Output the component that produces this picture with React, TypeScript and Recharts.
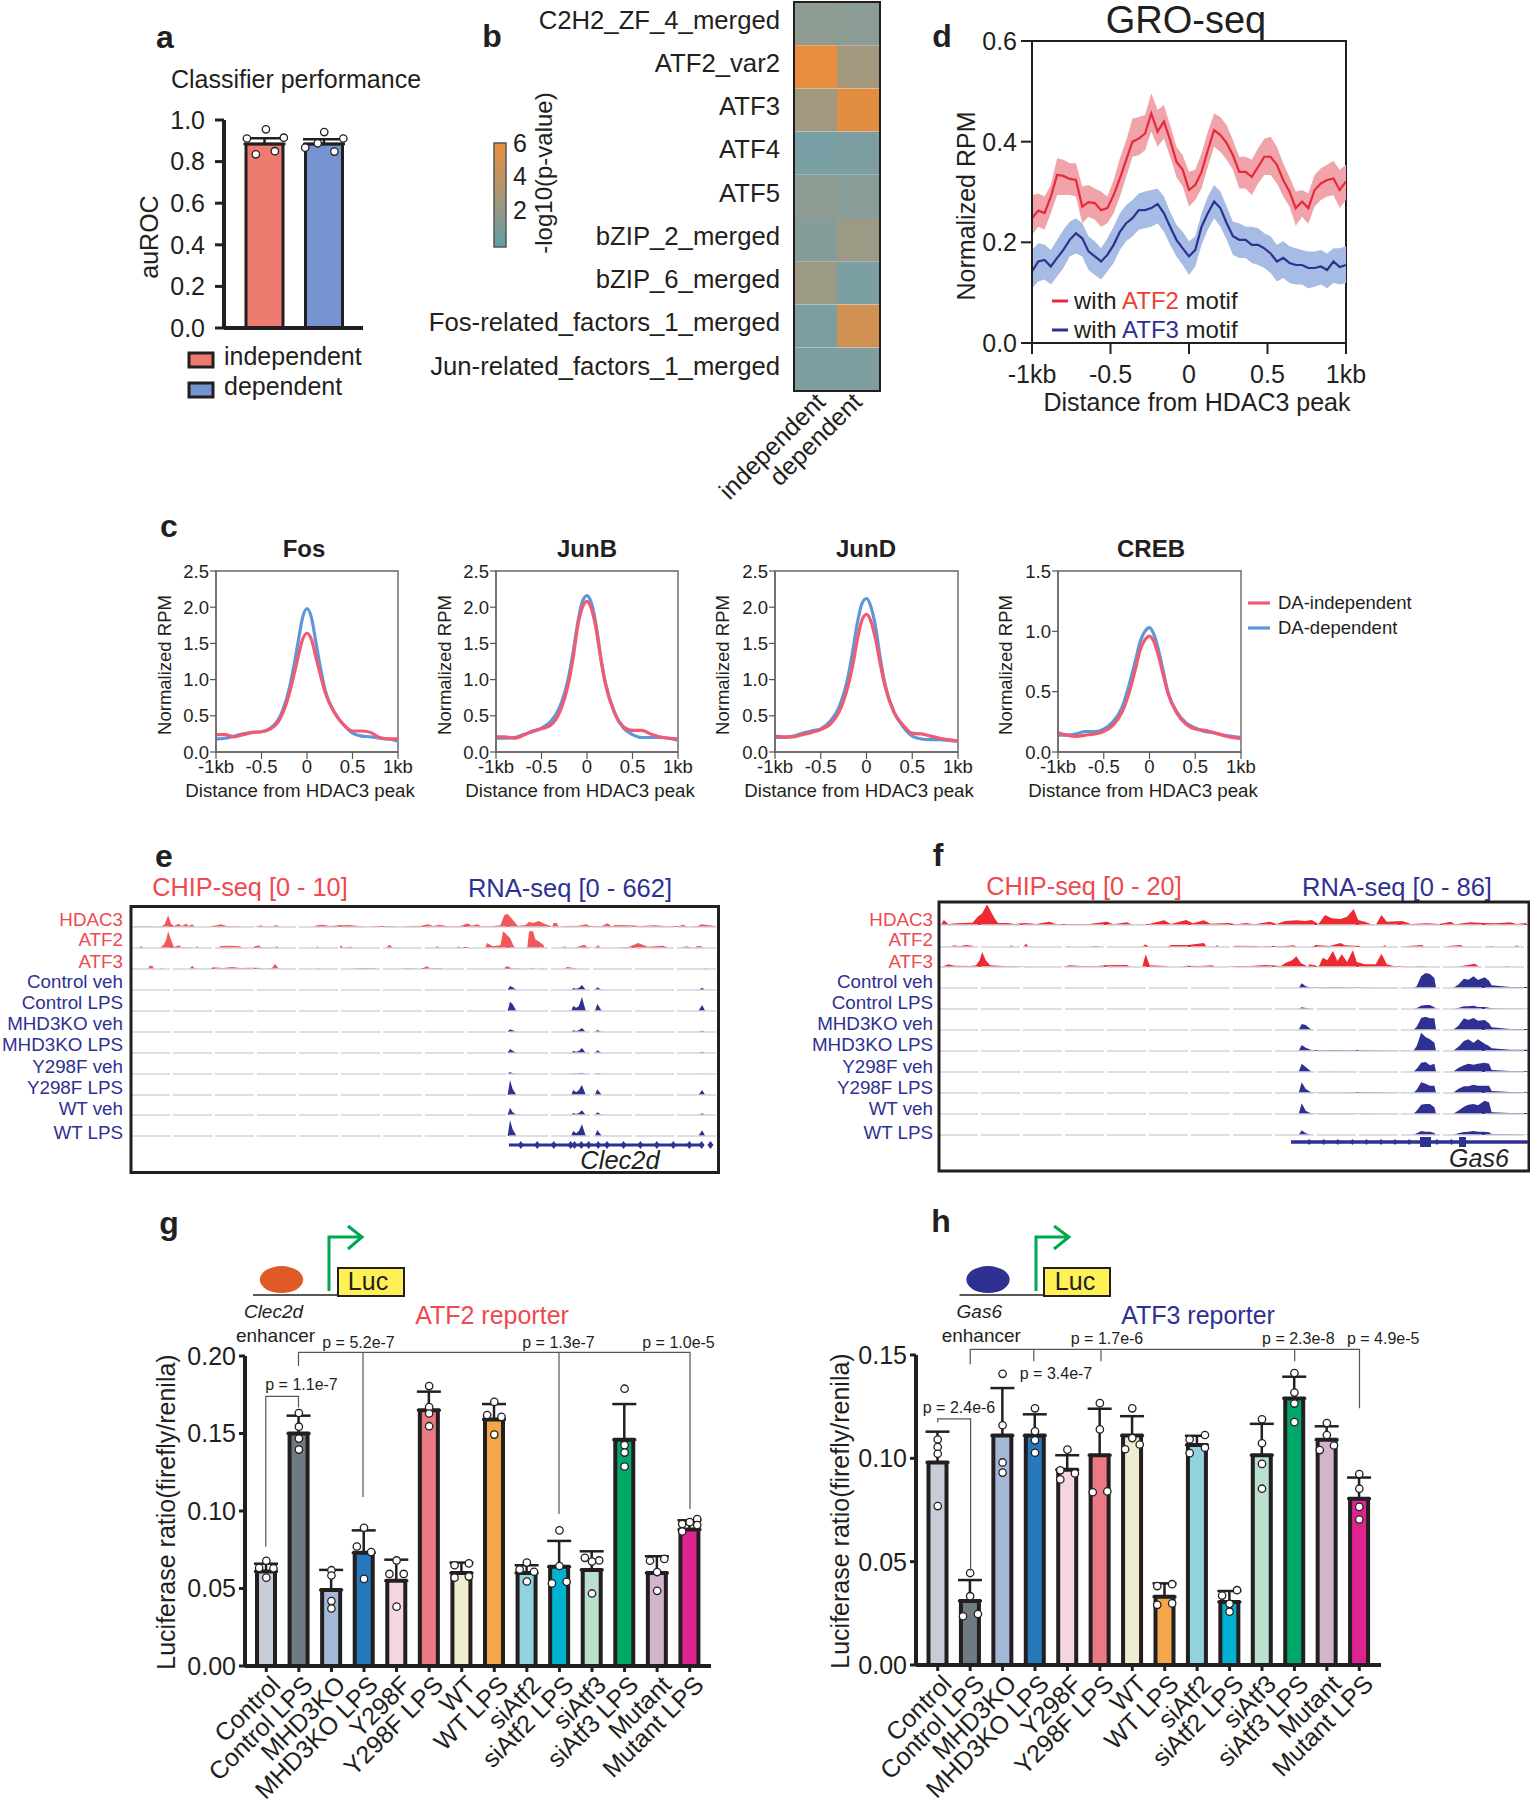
import React from 'react'
import {
  Area,
  AreaChart,
  Bar,
  BarChart,
  Cell,
  ComposedChart,
  ErrorBar,
  Line,
  LineChart,
  ReferenceArea,
  ReferenceLine,
  Scatter,
  XAxis,
  YAxis
} from 'recharts'

const FONT = '"Liberation Sans", Arial, sans-serif'
const INK = '#231f20'
const NAVY = '#2e3192'

// panel a
const aCategories = ['independent', 'dependent']
const aValues = [0.885, 0.885]
const aErrorTops = [0.912, 0.907]
const aColors = ['#ed7b6f', '#7594cf']
const aDots = [
  [0.955, 0.911, 0.915, 0.835, 0.85],
  [0.942, 0.867, 0.888, 0.911, 0.848]
]
const aDotOffsets = [
  [0.02, -0.3, 0.32, -0.15, 0.17],
  [0, -0.32, -0.11, 0.32, 0.17]
]

// panel b
const bMotifs = [
  'C2H2_ZF_4_merged', 'ATF2_var2', 'ATF3', 'ATF4', 'ATF5', 'bZIP_2_merged',
  'bZIP_6_merged', 'Fos-related_factors_1_merged', 'Jun-related_factors_1_merged'
]
const bIndependent = [1.2, 6.4, 2.2, 0.0, 1.2, 0.6, 2.0, 0.2, 0.3]
const bDependent = [1.0, 2.4, 6.0, 0.2, 0.8, 2.0, 0.1, 5.0, 0.3]

// panel c
const cX = [-1, -0.9, -0.8, -0.7, -0.6, -0.5, -0.4, -0.3, -0.2, -0.15, -0.1, -0.05, 0, 0.05, 0.1, 0.15, 0.2, 0.3, 0.4, 0.5, 0.6, 0.7, 0.8, 0.9, 1]
const fosDep = [0.18, 0.19, 0.22, 0.25, 0.27, 0.28, 0.33, 0.48, 0.85, 1.15, 1.5, 1.85, 1.98, 1.85, 1.5, 1.15, 0.85, 0.55, 0.38, 0.26, 0.22, 0.21, 0.19, 0.18, 0.15]
const fosInd = [0.24, 0.24, 0.21, 0.24, 0.27, 0.28, 0.32, 0.45, 0.78, 1.03, 1.3, 1.55, 1.64, 1.55, 1.3, 1.05, 0.82, 0.55, 0.38, 0.29, 0.29, 0.27, 0.2, 0.18, 0.18]
const junBDep = [0.19, 0.19, 0.2, 0.24, 0.28, 0.33, 0.42, 0.62, 1.05, 1.4, 1.8, 2.08, 2.16, 2.05, 1.75, 1.32, 0.97, 0.55, 0.33, 0.24, 0.2, 0.2, 0.2, 0.19, 0.16]
const junBInd = [0.21, 0.21, 0.19, 0.23, 0.29, 0.32, 0.37, 0.55, 0.97, 1.32, 1.75, 2.0, 2.08, 1.97, 1.7, 1.3, 0.95, 0.55, 0.35, 0.3, 0.3, 0.25, 0.21, 0.19, 0.18]
const junDDep = [0.2, 0.2, 0.22, 0.26, 0.29, 0.32, 0.42, 0.62, 1.05, 1.4, 1.78, 2.05, 2.12, 2.0, 1.72, 1.3, 0.95, 0.55, 0.35, 0.22, 0.18, 0.17, 0.17, 0.16, 0.15]
const junDInd = [0.22, 0.21, 0.21, 0.24, 0.27, 0.31, 0.38, 0.55, 0.92, 1.2, 1.55, 1.82, 1.9, 1.8, 1.55, 1.22, 0.92, 0.55, 0.37, 0.26, 0.25, 0.22, 0.19, 0.17, 0.15]
const crebDep = [0.14, 0.14, 0.15, 0.17, 0.17, 0.19, 0.25, 0.37, 0.62, 0.77, 0.92, 1.0, 1.03, 0.97, 0.84, 0.67, 0.5, 0.33, 0.24, 0.2, 0.17, 0.16, 0.14, 0.13, 0.12]
const crebInd = [0.16, 0.14, 0.13, 0.14, 0.15, 0.17, 0.22, 0.33, 0.55, 0.7, 0.85, 0.93, 0.96, 0.91, 0.79, 0.64, 0.49, 0.32, 0.23, 0.19, 0.18, 0.16, 0.14, 0.12, 0.11]

// panel d
const dX = [-1, -0.96, -0.92, -0.88, -0.84, -0.8, -0.76, -0.72, -0.68, -0.64, -0.6, -0.56, -0.52, -0.48, -0.44, -0.4, -0.36, -0.32, -0.28, -0.24, -0.2, -0.16, -0.12, -0.08, -0.04, 0, 0.04, 0.08, 0.12, 0.16, 0.2, 0.24, 0.28, 0.32, 0.36, 0.4, 0.44, 0.48, 0.52, 0.56, 0.6, 0.64, 0.68, 0.72, 0.76, 0.8, 0.84, 0.88, 0.92, 0.96, 1]
const redMean = [0.248, 0.263, 0.258, 0.291, 0.334, 0.332, 0.326, 0.324, 0.271, 0.28, 0.278, 0.264, 0.268, 0.294, 0.327, 0.364, 0.4, 0.406, 0.416, 0.456, 0.42, 0.44, 0.403, 0.36, 0.344, 0.304, 0.314, 0.34, 0.383, 0.423, 0.413, 0.397, 0.373, 0.34, 0.34, 0.33, 0.35, 0.37, 0.37, 0.354, 0.324, 0.301, 0.268, 0.281, 0.268, 0.304, 0.317, 0.324, 0.327, 0.304, 0.321]
const redHigh = [0.294, 0.297, 0.291, 0.314, 0.367, 0.364, 0.357, 0.357, 0.311, 0.314, 0.307, 0.301, 0.291, 0.324, 0.367, 0.403, 0.446, 0.449, 0.453, 0.496, 0.463, 0.473, 0.433, 0.39, 0.373, 0.34, 0.344, 0.377, 0.42, 0.456, 0.449, 0.433, 0.403, 0.37, 0.37, 0.364, 0.387, 0.406, 0.41, 0.39, 0.357, 0.33, 0.301, 0.304, 0.297, 0.334, 0.347, 0.354, 0.362, 0.344, 0.354]
const redLow = [0.215, 0.231, 0.225, 0.258, 0.294, 0.294, 0.294, 0.291, 0.238, 0.251, 0.245, 0.231, 0.238, 0.258, 0.291, 0.33, 0.37, 0.373, 0.383, 0.42, 0.39, 0.406, 0.37, 0.33, 0.311, 0.271, 0.284, 0.307, 0.35, 0.39, 0.38, 0.364, 0.344, 0.307, 0.307, 0.294, 0.317, 0.334, 0.334, 0.317, 0.291, 0.271, 0.233, 0.251, 0.237, 0.271, 0.284, 0.291, 0.294, 0.268, 0.284]
const blueMean = [0.142, 0.162, 0.165, 0.152, 0.169, 0.185, 0.205, 0.218, 0.208, 0.182, 0.172, 0.162, 0.175, 0.195, 0.221, 0.238, 0.248, 0.264, 0.264, 0.268, 0.276, 0.258, 0.231, 0.205, 0.188, 0.172, 0.185, 0.231, 0.258, 0.281, 0.268, 0.238, 0.212, 0.205, 0.205, 0.195, 0.195, 0.188, 0.178, 0.162, 0.169, 0.159, 0.155, 0.155, 0.149, 0.149, 0.152, 0.145, 0.162, 0.151, 0.155]
const blueHigh = [0.185, 0.198, 0.195, 0.185, 0.205, 0.225, 0.241, 0.248, 0.238, 0.212, 0.202, 0.188, 0.208, 0.231, 0.258, 0.274, 0.284, 0.297, 0.301, 0.304, 0.307, 0.291, 0.261, 0.235, 0.221, 0.202, 0.212, 0.258, 0.291, 0.314, 0.301, 0.271, 0.241, 0.238, 0.231, 0.231, 0.228, 0.218, 0.212, 0.195, 0.202, 0.192, 0.188, 0.185, 0.182, 0.182, 0.185, 0.178, 0.188, 0.188, 0.192]
const blueLow = [0.109, 0.122, 0.126, 0.116, 0.132, 0.149, 0.172, 0.178, 0.172, 0.145, 0.135, 0.126, 0.142, 0.159, 0.185, 0.202, 0.212, 0.225, 0.228, 0.231, 0.238, 0.221, 0.195, 0.172, 0.155, 0.135, 0.152, 0.195, 0.225, 0.248, 0.231, 0.205, 0.175, 0.169, 0.169, 0.159, 0.155, 0.149, 0.139, 0.122, 0.129, 0.119, 0.116, 0.116, 0.109, 0.112, 0.116, 0.109, 0.119, 0.116, 0.119]

// panels e and f: genome bin, track height
const trackLabels = ['HDAC3', 'ATF2', 'ATF3', 'Control veh', 'Control LPS', 'MHD3KO veh', 'MHD3KO LPS', 'Y298F veh', 'Y298F LPS', 'WT veh', 'WT LPS']

const eHdac3 = [[8,0],[12,3],[30,2],[50,3],[55,0],[80,2],[88,8],[97,35],[105,10],[112,3],[125,10],[132,3],[145,10],[150,3],[160,8],[167,0],[205,0],[215,3],[235,8],[250,3],[280,2],[300,0],[320,0],[340,5],[350,0],[370,2],[380,6],[388,0],[475,0],[485,5],[500,7],[520,3],[545,5],[570,6],[600,2],[612,0],[640,3],[680,3],[700,0],[730,3],[760,4],[775,8],[790,3],[805,7],[830,2],[860,3],[880,11],[890,4],[905,8],[915,2],[945,3],[965,5],[975,35],[983,40],[995,25],[1010,4],[1030,5],[1040,16],[1050,12],[1065,18],[1080,10],[1095,3],[1100,0],[1104,12],[1112,12],[1118,0],[1130,3],[1170,4],[1190,8],[1200,2],[1230,3],[1245,11],[1255,2],[1265,6],[1300,5],[1330,3],[1370,5],[1400,2],[1430,3],[1443,7],[1455,0],[1480,3],[1490,8],[1505,6],[1525,3],[1530,0]]
const eAtf2 = [[20,0],[27,6],[33,0],[75,0],[85,10],[92,25],[97,50],[103,30],[112,3],[125,8],[133,2],[170,0],[172,6],[178,0],[225,0],[235,6],[260,7],[285,5],[290,0],[315,0],[322,4],[334,8],[340,2],[375,0],[380,6],[386,0],[483,0],[487,5],[492,0],[545,0],[549,8],[555,0],[560,3],[576,4],[580,0],[665,0],[675,10],[686,0],[795,0],[800,6],[806,0],[850,0],[855,5],[862,0],[870,3],[880,3],[882,0],[925,0],[930,15],[945,5],[965,8],[972,50],[982,40],[990,30],[998,10],[1003,0],[1035,0],[1040,50],[1050,50],[1057,25],[1065,20],[1078,8],[1080,0],[1125,0],[1132,5],[1140,0],[1155,0],[1165,3],[1185,10],[1192,2],[1212,0],[1220,8],[1228,0],[1272,0],[1285,3],[1300,3],[1325,15],[1340,8],[1350,4],[1390,7],[1405,0],[1435,0],[1450,5],[1470,0],[1480,6],[1490,5],[1495,0]]
const eAtf3 = [[45,0],[48,10],[56,10],[60,0],[75,0],[80,4],[85,0],[152,0],[160,10],[168,0],[205,0],[215,5],[240,3],[265,6],[285,3],[310,4],[340,3],[345,0],[368,2],[376,16],[385,2],[388,0],[480,0],[490,2],[495,0],[575,0],[585,2],[605,3],[635,3],[640,0],[705,0],[730,3],[750,0],[765,3],[772,8],[782,2],[810,3],[815,0],[900,0],[910,1],[972,0],[982,9],[995,2],[1040,0],[1045,4],[1052,0],[1068,0],[1073,4],[1078,0],[1130,0],[1140,6],[1160,2],[1165,0],[1490,0],[1505,2],[1510,0]]
const eRnaBins = [984, 990, 997, 1007, 1150, 1155, 1163, 1170, 1178, 1188, 1212, 1218, 1230, 1482, 1492, 1500]
const eRna = [
  [0, 12, 8, 0, 0, 6, 4, 6, 15, 0, 0, 8, 0, 0, 7, 0],
  [0, 28, 20, 0, 0, 15, 10, 15, 42, 0, 0, 22, 0, 0, 18, 0],
  [0, 8, 5, 0, 0, 5, 3, 5, 12, 0, 0, 6, 0, 0, 4, 0],
  [0, 12, 7, 0, 0, 6, 4, 6, 15, 0, 0, 8, 0, 0, 4, 0],
  [0, 6, 2, 0, 0, 2, 1, 2, 4, 0, 0, 2, 0, 0, 1, 0],
  [0, 45, 18, 0, 0, 15, 8, 15, 30, 0, 0, 17, 0, 0, 15, 0],
  [0, 22, 8, 0, 0, 6, 3, 6, 14, 0, 0, 8, 0, 0, 5, 0],
  [0, 48, 20, 0, 0, 15, 8, 15, 35, 0, 0, 18, 0, 0, 17, 0]
]

const fHdac3 = [[228,0],[235,15],[245,3],[265,5],[300,7],[312,25],[322,35],[333,62],[342,40],[350,20],[358,6],[380,6],[395,3],[420,6],[445,3],[475,10],[490,2],[520,3],[560,2],[605,10],[620,2],[650,8],[665,0],[700,3],[735,14],[750,3],[785,15],[800,5],[825,14],[840,4],[880,6],[900,2],[920,6],[940,2],[975,10],[990,3],[1010,12],[1035,14],[1055,12],[1070,15],[1085,3],[1100,30],[1115,20],[1135,18],[1150,25],[1165,48],[1175,15],[1190,10],[1205,2],[1215,0],[1228,30],[1240,10],[1275,12],[1295,3],[1330,5],[1360,3],[1385,10],[1395,2],[1430,8],[1460,6],[1490,5],[1520,8],[1535,3],[1555,6],[1560,0]]
const fAtf2 = [[250,0],[258,5],[270,2],[285,6],[300,4],[302,0],[383,0],[388,5],[393,0],[415,0],[421,10],[428,0],[515,0],[518,3],[522,0],[565,0],[575,3],[585,3],[588,0],[685,0],[692,8],[700,0],[742,0],[750,6],[790,6],[825,12],[832,0],[850,0],[855,6],[860,0],[890,0],[895,4],[950,3],[952,0],[965,3],[1000,2],[1030,5],[1035,0],[1070,0],[1080,6],[1110,3],[1135,12],[1145,5],[1178,3],[1180,0],[1230,0],[1235,6],[1240,0],[1275,0],[1290,3],[1320,6],[1325,0],[1375,0],[1380,3],[1408,6],[1415,0],[1460,0],[1480,3],[1485,0],[1530,0],[1535,6],[1540,0]]
const fAtf3 = [[230,0],[245,8],[260,4],[295,3],[308,5],[316,20],[322,45],[330,20],[340,5],[370,3],[420,1],[505,0],[520,5],[545,3],[580,2],[600,5],[650,6],[660,0],[685,0],[693,38],[702,5],[740,3],[745,0],[770,0],[785,4],[815,3],[845,5],[850,0],[880,0],[900,3],[930,3],[965,6],[1000,3],[1010,12],[1025,20],[1035,32],[1045,12],[1055,5],[1060,0],[1065,8],[1075,6],[1085,0],[1095,28],[1105,20],[1118,48],[1128,18],[1138,38],[1150,15],[1163,50],[1172,15],[1190,8],[1215,8],[1228,40],[1240,8],[1255,3],[1290,0],[1325,3],[1330,0],[1400,0],[1410,3],[1440,10],[1450,0],[1505,0],[1512,3],[1520,0]]
const fRnaBins = [1040, 1047, 1056, 1070, 1120, 1190, 1300, 1308, 1318, 1328, 1338, 1348, 1352, 1390, 1402, 1415, 1425, 1437, 1447, 1462, 1472, 1478, 1520, 1565]
const fRna = [
  [0, 14, 5, 1, 2, 1, 0, 5, 35, 45, 42, 30, 0, 0, 10, 28, 25, 35, 24, 32, 22, 8, 3, 3],
  [0, 5, 3, 0, 0, 0, 0, 3, 10, 12, 12, 5, 0, 0, 3, 8, 8, 10, 6, 6, 4, 2, 1, 1],
  [0, 18, 15, 0, 0, 0, 0, 10, 36, 40, 35, 35, 0, 0, 12, 35, 30, 36, 28, 30, 20, 8, 3, 3],
  [0, 18, 10, 2, 3, 2, 0, 15, 55, 42, 35, 25, 0, 0, 12, 30, 35, 25, 35, 22, 15, 8, 4, 4],
  [0, 25, 15, 0, 1, 0, 0, 10, 28, 30, 20, 25, 0, 0, 12, 20, 25, 22, 25, 28, 25, 6, 3, 2],
  [0, 32, 12, 1, 1, 2, 0, 10, 32, 28, 22, 22, 0, 0, 12, 20, 20, 25, 22, 22, 22, 6, 3, 2],
  [0, 32, 10, 1, 1, 1, 0, 10, 28, 30, 30, 20, 0, 0, 10, 22, 28, 30, 26, 40, 35, 5, 3, 3],
  [0, 14, 5, 0, 0, 0, 0, 5, 12, 10, 10, 6, 0, 0, 5, 9, 10, 12, 10, 10, 8, 3, 2, 0]
]

// panels g and h
const reporterCategories = ['Control', 'Control LPS', 'MHD3KO', 'MHD3KO LPS', 'Y298F', 'Y298F LPS', 'WT', 'WT LPS', 'siAtf2', 'siAtf2 LPS', 'siAtf3', 'siAtf3 LPS', 'Mutant', 'Mutant LPS']
const reporterColors = ['#c8ccd8', '#6e7b83', '#a3b8d6', '#2878bd', '#f5d8df', '#ec7a84', '#f0ecd0', '#f4a64a', '#90d2de', '#00b1d2', '#b8e0cc', '#00a96a', '#d4b4cb', '#dd2490']

const gValues = [0.061, 0.15, 0.049, 0.073, 0.055, 0.165, 0.06, 0.159, 0.06, 0.064, 0.062, 0.146, 0.06, 0.088]
const gErrorTops = [0.066, 0.1615, 0.062, 0.0875, 0.0686, 0.177, 0.0667, 0.169, 0.065, 0.0807, 0.074, 0.169, 0.0708, 0.094]
const gDots = [
  [0.0679, 0.0633, 0.063, 0.057],
  [0.1632, 0.1544, 0.1467, 0.1396],
  [0.0618, 0.0584, 0.0419, 0.0371],
  [0.0892, 0.0771, 0.0735, 0.0562],
  [0.0681, 0.0594, 0.0594, 0.0383],
  [0.1806, 0.167, 0.1629, 0.1547],
  [0.065, 0.0662, 0.057, 0.0577],
  [0.1704, 0.1619, 0.1607, 0.1493],
  [0.0667, 0.0623, 0.0608, 0.0545],
  [0.0875, 0.0645, 0.0533, 0.0543],
  [0.0698, 0.0681, 0.0674, 0.0468],
  [0.1789, 0.1425, 0.1377, 0.1287],
  [0.0679, 0.0691, 0.0606, 0.0485],
  [0.0916, 0.0928, 0.0948, 0.0868, 0.0909]
]
const gDotOffsets = [
  [0, -0.22, 0.22, 0],
  [0, 0, 0, 0],
  [0, 0, 0, 0],
  [0, -0.22, 0.22, 0],
  [0, -0.22, 0.22, 0],
  [0, 0, 0, 0],
  [-0.22, 0.22, -0.22, 0.22],
  [0, -0.22, 0.22, 0],
  [0, -0.22, 0.22, 0],
  [0, 0, -0.23, 0.22],
  [-0.22, 0.22, 0, 0],
  [0, 0, 0, 0],
  [-0.22, 0.22, 0, 0],
  [-0.23, 0, 0.23, -0.23, 0.23]
]

const hValues = [0.098, 0.031, 0.111, 0.111, 0.0945, 0.1015, 0.111, 0.033, 0.1065, 0.0305, 0.1015, 0.129, 0.109, 0.0805]
const hErrorTops = [0.1129, 0.0411, 0.134, 0.1213, 0.1015, 0.124, 0.1204, 0.0395, 0.1109, 0.0358, 0.1167, 0.1395, 0.1155, 0.0907]
const hDots = [
  [0.1091, 0.1055, 0.1022, 0.0769],
  [0.0445, 0.0333, 0.0236, 0.0247],
  [0.1409, 0.116, 0.098, 0.0931],
  [0.1242, 0.1131, 0.1087, 0.1027],
  [0.1042, 0.0942, 0.0927, 0.0898],
  [0.1267, 0.114, 0.0836, 0.084],
  [0.1242, 0.1098, 0.1044, 0.1067],
  [0.0382, 0.0391, 0.0291, 0.0298],
  [0.1091, 0.1113, 0.1025, 0.1051],
  [0.0336, 0.0362, 0.0296, 0.0258],
  [0.1189, 0.1073, 0.0973, 0.0853],
  [0.1413, 0.1318, 0.1265, 0.1175],
  [0.1171, 0.1113, 0.104, 0.1062],
  [0.0924, 0.0853, 0.0765, 0.0704]
]
const hDotOffsets = [
  [0, 0, 0, 0],
  [0, 0, -0.22, 0.24],
  [0, 0, 0, 0],
  [0, 0, 0, 0],
  [0, -0.22, 0.23, -0.22],
  [0, 0, -0.22, 0.23],
  [0, 0, -0.22, 0.23],
  [-0.23, 0.23, -0.23, 0.23],
  [-0.23, 0.24, -0.23, 0.24],
  [-0.23, 0.23, 0, 0],
  [0, 0, 0, 0],
  [0, 0, 0, 0],
  [0, 0, -0.22, 0.22],
  [0, 0, 0, 0]
]

function T({ x, y, size = 25, anchor = 'middle', weight, italic, fill = INK, rotate, children }: any) {
  return (
    <text
      x={x}
      y={y}
      fontSize={size}
      fontFamily={FONT}
      fontWeight={weight}
      fontStyle={italic ? 'italic' : undefined}
      textAnchor={anchor}
      dominantBaseline="central"
      fill={fill}
      transform={rotate ? `rotate(${rotate} ${x} ${y})` : undefined}
    >
      {children}
    </text>
  )
}

function Box({ left, top, children }: any) {
  return <div style={{ position: 'absolute', left, top }}>{children}</div>
}

const DotShape = (props: any) => (
  <circle cx={props.cx} cy={props.cy} r={3.7} fill="#fff" stroke={INK} strokeWidth={1.3} />
)

function DotBars(p: any) {
  const table = p.categories.map((name: string, i: number) => ({
    name,
    value: p.values[i],
    err: [0, p.errorTops[i] - p.values[i]]
  }))
  const dotTable = p.dots.flatMap((ys: number[], i: number) =>
    ys.map((y, j) => ({ x: i + 0.5 + p.offsets[i][j], y }))
  )
  return (
    <Box left={p.left} top={p.top}>
      <ComposedChart width={p.width} height={p.height} data={table} margin={{ top: p.marginTop, right: 0, bottom: 0, left: 0 }}>
        <XAxis
          dataKey="name"
          height={p.xHeight}
          interval={0}
          padding={p.padding}
          tick={p.xLabels ? { fontSize: 25, fill: INK, fontFamily: FONT, dx: 3 } : false}
          angle={p.xLabels ? -45 : undefined}
          textAnchor={p.xLabels ? 'end' : undefined}
          tickSize={p.xLabels ? 6 : 0}
          tickMargin={2}
          tickLine={p.xLabels ? { stroke: INK, strokeWidth: 3 } : false}
          axisLine={{ stroke: INK, strokeWidth: 4 }}
        />
        <XAxis xAxisId="dots" type="number" dataKey="x" domain={[0, p.categories.length]} padding={p.padding} hide />
        <YAxis
          width={p.yWidth}
          domain={p.domain}
          ticks={p.ticks}
          interval={0}
          tickFormatter={(v: number) => v.toFixed(p.digits)}
          tick={{ fontSize: 25, fill: INK, fontFamily: FONT }}
          tickSize={p.tickSize}
          tickMargin={p.tickMargin}
          tickLine={{ stroke: INK, strokeWidth: 3 }}
          axisLine={{ stroke: INK, strokeWidth: 4 }}
        />
        <Bar dataKey="value" barSize={p.barSize} stroke={INK} strokeWidth={p.barStroke} isAnimationActive={false}>
          {p.colors.map((c: string) => <Cell key={c} fill={c} />)}
          <ErrorBar dataKey="err" width={p.whisker} stroke={INK} strokeWidth={2.5} isAnimationActive={false} />
        </Bar>
        <Scatter xAxisId="dots" data={dotTable} dataKey="y" shape={DotShape} isAnimationActive={false} />
      </ComposedChart>
    </Box>
  )
}

function heatColor(v: number) {
  const t = v / 6.5
  const mix = (a: number, b: number) => Math.round(a + (b - a) * t)
  return `rgb(${mix(122, 234)},${mix(159, 141)},${mix(164, 59)})`
}

function PeakChart({ plotLeft, plotWidth, yMax, yTicks, dep, ind }: any) {
  const table = cX.map((x, i) => ({ x, dep: dep[i], ind: ind[i] }))
  return (
    <Box left={plotLeft - 56} top={550}>
      <LineChart width={56 + plotWidth + 30} height={242} data={table} margin={{ top: 21, right: 30, bottom: 0, left: 0 }}>
        <XAxis
          type="number"
          dataKey="x"
          domain={[-1, 1]}
          ticks={[-1, -0.5, 0, 0.5, 1]}
          interval={0}
          height={40}
          tickFormatter={(v: number) => (v === -1 ? '-1kb' : v === 1 ? '1kb' : String(v))}
          tick={{ fontSize: 18.5, fill: INK, fontFamily: FONT }}
          tickSize={7}
          tickMargin={1}
          tickLine={{ stroke: '#555', strokeWidth: 1.2 }}
          axisLine={{ stroke: '#666', strokeWidth: 1.4 }}
        />
        <YAxis
          width={56}
          domain={[0, yMax]}
          ticks={yTicks}
          interval={0}
          tickFormatter={(v: number) => v.toFixed(1)}
          tick={{ fontSize: 18.5, fill: INK, fontFamily: FONT }}
          tickSize={6}
          tickMargin={1}
          tickLine={{ stroke: '#555', strokeWidth: 1.2 }}
          axisLine={{ stroke: '#666', strokeWidth: 1.4 }}
        />
        <ReferenceArea x1={-1} x2={1} y1={0} y2={yMax} fill="none" stroke="#666" strokeWidth={1.4} />
        <Line dataKey="dep" type="monotone" stroke="#5e97d8" strokeWidth={3.2} dot={false} isAnimationActive={false} />
        <Line dataKey="ind" type="monotone" stroke="#f25a72" strokeWidth={3.2} dot={false} isAnimationActive={false} />
      </LineChart>
    </Box>
  )
}

function Track({ left, width, baseline, xDomain, points, color }: any) {
  const table = points.map((pt: number[]) => ({ x: pt[0], h: pt[1] }))
  return (
    <Box left={left} top={baseline - 20}>
      <AreaChart width={width} height={21} data={table} margin={{ top: 0, right: 0, bottom: 1, left: 0 }}>
        <XAxis type="number" dataKey="x" domain={xDomain} hide allowDataOverflow />
        <YAxis domain={[0, 60]} hide allowDataOverflow />
        <ReferenceLine y={0} stroke="#d4d4dc" strokeWidth={1.4} strokeDasharray="39 3" />
        <Area dataKey="h" type="linear" fill={color} fillOpacity={1} stroke="none" dot={false} isAnimationActive={false} />
      </AreaChart>
    </Box>
  )
}

function TrackPanel({ left, width, xDomain, baselines, chip, chipColor, rnaBins, rna }: any) {
  return (
    <>
      {chip.map((points: number[][], i: number) => (
        <Track key={i} left={left} width={width} baseline={baselines[i]} xDomain={xDomain} points={points} color={chipColor} />
      ))}
      {rna.map((heights: number[], i: number) => (
        <Track
          key={i + 3}
          left={left}
          width={width}
          baseline={baselines[i + 3]}
          xDomain={xDomain}
          points={rnaBins.map((b: number, j: number) => [b, heights[j]])}
          color={NAVY}
        />
      ))}
    </>
  )
}

const eBaselines = [927, 948, 969, 990, 1011, 1032, 1053, 1074, 1095, 1115, 1136]
const fBaselines = [925, 947, 967, 988, 1009, 1030, 1051, 1072, 1093, 1114, 1135]
const eLabelY = [919, 939, 961, 981, 1002, 1023, 1044, 1066, 1087, 1108, 1132]

const eExons = [1020, 1063, 1106, 1150, 1160, 1178, 1197, 1222, 1245, 1288, 1332, 1375, 1418, 1460, 1492, 1515]
const fExons = [1065, 1098, 1130, 1163, 1195, 1228, 1260, 1292, 1355, 1388]

function Overlay() {
  const pBracket = { fill: 'none', stroke: '#555', strokeWidth: 1.2 }
  return (
    <svg width={1530} height={1800} style={{ position: 'absolute', left: 0, top: 0, pointerEvents: 'none' }}>
      <defs>
        <linearGradient id="heatRamp" x1="0" y1="0" x2="0" y2="1">
          <stop offset="0" stopColor="#e8913c" />
          <stop offset="0.55" stopColor="#a3967c" />
          <stop offset="1" stopColor="#5f9ea8" />
        </linearGradient>
      </defs>

      {[['a', 165, 37], ['b', 492, 36], ['c', 169, 526], ['d', 942, 36], ['e', 164, 856], ['f', 938, 855], ['g', 169, 1223], ['h', 941, 1221]].map(
        ([l, x, y]: any) => <T key={l} x={x} y={y} size={32} weight="bold">{l}</T>
      )}

      {/* a */}
      <T x={296} y={79}>Classifier performance</T>
      <T x={149} y={237} rotate={-90}>auROC</T>
      <rect x={189} y={353} width={24} height={14} fill={aColors[0]} stroke={INK} strokeWidth={3} />
      <rect x={189} y={383} width={24} height={14} fill={aColors[1]} stroke={INK} strokeWidth={3} />
      <T x={224} y={356} anchor="start">independent</T>
      <T x={224} y={386} anchor="start">dependent</T>

      {/* b */}
      <rect x={794} y={2} width={86} height={389} fill="none" stroke={INK} strokeWidth={2} />
      <rect x={494} y={143} width={12} height={104} fill="url(#heatRamp)" stroke="#555" strokeWidth={1.5} />
      <T x={520} y={143}>6</T>
      <T x={520} y={176}>4</T>
      <T x={520} y={210}>2</T>
      <T x={543} y={173} size={24} rotate={-90}>-log10(p-value)</T>

      {/* c */}
      {[[304, 'Fos'], [587, 'JunB'], [866, 'JunD'], [1151, 'CREB']].map(([x, t]: any) => (
        <T key={t} x={x} y={548} size={24} weight="bold">{t}</T>
      ))}
      {[300, 580, 859, 1143].map((x) => <T key={x} x={x} y={790} size={18.7}>Distance from HDAC3 peak</T>)}
      {[164, 444, 722, 1005].map((x) => <T key={x} x={x} y={665} size={18.5} rotate={-90}>Normalized RPM</T>)}
      <line x1={1248} x2={1270} y1={603} y2={603} stroke="#f25a72" strokeWidth={3.2} />
      <line x1={1248} x2={1270} y1={628} y2={628} stroke="#5e97d8" strokeWidth={3.2} />
      <T x={1278} y={602} size={18.5} anchor="start">DA-independent</T>
      <T x={1278} y={627} size={18.5} anchor="start">DA-dependent</T>

      {/* d */}
      <T x={1186} y={20} size={38}>GRO-seq</T>
      <T x={966} y={206} rotate={-90}>Normalized RPM</T>
      <T x={1197} y={402}>Distance from HDAC3 peak</T>
      <line x1={1052} x2={1068} y1={301} y2={301} stroke="#e8283c" strokeWidth={3} />
      <line x1={1052} x2={1068} y1={330} y2={330} stroke={NAVY} strokeWidth={3} />
      <T x={1074} y={300} size={24} anchor="start">with <tspan fill="#e8432e">ATF2</tspan> motif</T>
      <T x={1074} y={329} size={24} anchor="start">with <tspan fill={NAVY}>ATF3</tspan> motif</T>

      {/* e */}
      <T x={250} y={887} size={25.3} fill="#ee4a50">CHIP-seq [0 - 10]</T>
      <T x={570} y={888} size={25.5} fill={NAVY}>RNA-seq [0 - 662]</T>
      <rect x={131} y={906.5} width={587.5} height={266} fill="none" stroke={INK} strokeWidth={3} />
      {trackLabels.map((t, i) => (
        <T key={t} x={123} y={eLabelY[i]} size={18.8} anchor="end" fill={i < 3 ? '#ee4a50' : NAVY}>{t}</T>
      ))}
      <line x1={509} x2={702} y1={1145} y2={1145} stroke={NAVY} strokeWidth={3} />
      {eExons.map((b) => {
        const x = 130 + b / 2.61
        return <path key={b} d={`M${x - 3} 1145 L${x} 1141 L${x + 3} 1145 L${x} 1149 Z`} fill={NAVY} />
      })}
      <T x={620} y={1160} size={25.5} italic>Clec2d</T>

      {/* f */}
      <T x={1084} y={886} size={25.3} fill="#ee4a50">CHIP-seq [0 - 20]</T>
      <T x={1397} y={887} size={25.5} fill={NAVY}>RNA-seq [0 - 86]</T>
      <rect x={939} y={902} width={590} height={269} fill="none" stroke={INK} strokeWidth={3} />
      {trackLabels.map((t, i) => (
        <T key={t} x={933} y={eLabelY[i]} size={18.8} anchor="end" fill={i < 3 ? '#ee4a50' : NAVY}>{t}</T>
      ))}
      <line x1={1291} x2={1528} y1={1142} y2={1142} stroke={NAVY} strokeWidth={3.5} />
      <rect x={1420} y={1137} width={11} height={10} fill={NAVY} />
      <rect x={1459} y={1137} width={7} height={10} fill={NAVY} />
      {fExons.map((b) => {
        const x = 840 + b / 2.27
        return <path key={b} d={`M${x - 2.5} 1142 L${x} 1139 L${x + 2.5} 1142 L${x} 1145 Z`} fill={NAVY} />
      })}
      <T x={1479} y={1158} size={25} italic>Gas6</T>

      {/* g */}
      <ellipse cx={281.5} cy={1279.6} rx={21.7} ry={13.5} fill="#e05a28" />
      <line x1={253} x2={340} y1={1295} y2={1295} stroke={INK} strokeWidth={1.5} />
      <rect x={338} y={1268} width={66} height={28} fill="#fff055" stroke={INK} strokeWidth={2} />
      <T x={368} y={1281}>Luc</T>
      <path d="M329 1291 V1237 H361 M348 1226 L362 1237 L348 1249" fill="none" stroke="#00a94f" strokeWidth={3} />
      <T x={273.5} y={1311.6} size={19} italic>Clec2d</T>
      <T x={275.5} y={1335} size={19}>enhancer</T>
      <T x={492} y={1315} fill="#ee4a50">ATF2 reporter</T>
      <T x={166} y={1512} rotate={-90}>Luciferase ratio(firefly/renila)</T>
      <T x={358.5} y={1342.5} size={16}>p = 5.2e-7</T>
      <T x={558.5} y={1342.5} size={16}>p = 1.3e-7</T>
      <T x={678.5} y={1342.5} size={16}>p = 1.0e-5</T>
      <T x={301.5} y={1384} size={16}>p = 1.1e-7</T>
      <path d="M298.5 1366 V1352.3 H690 V1509 M363 1352.3 V1497 M559 1352.3 V1514" {...pBracket} />
      <path d="M265.8 1546.8 V1396.3 H298.5 V1407.6" {...pBracket} />

      {/* h */}
      <ellipse cx={988} cy={1279.6} rx={21.7} ry={13.5} fill={NAVY} />
      <line x1={959.5} x2={1046} y1={1295} y2={1295} stroke={INK} strokeWidth={1.5} />
      <rect x={1044} y={1268} width={66} height={28} fill="#fff055" stroke={INK} strokeWidth={2} />
      <T x={1075} y={1281}>Luc</T>
      <path d="M1036 1291 V1237 H1068 M1054 1226 L1069 1237 L1054 1249" fill="none" stroke="#00a94f" strokeWidth={3} />
      <T x={979.3} y={1311.6} size={19} italic>Gas6</T>
      <T x={981.3} y={1335} size={19}>enhancer</T>
      <T x={1198} y={1315} fill={NAVY}>ATF3 reporter</T>
      <T x={840} y={1511} rotate={-90}>Luciferase ratio(firefly/renila)</T>
      <T x={1107} y={1338} size={16}>p = 1.7e-6</T>
      <T x={1298.3} y={1338} size={16}>p = 2.3e-8</T>
      <T x={1383.2} y={1338} size={16}>p = 4.9e-5</T>
      <T x={1056} y={1373.7} size={16}>p = 3.4e-7</T>
      <T x={959} y={1407} size={16}>p = 2.4e-6</T>
      <path d="M970.2 1364.3 V1349.3 H1359.5 V1408.3 M1033.8 1349.3 V1361.3 M1101 1349.3 V1361.3 M1294.7 1349.3 V1361.3" {...pBracket} />
      <path d="M937.8 1422.6 V1418.9 H970.6 V1570.5" {...pBracket} />
    </svg>
  )
}

export default function App() {
  const heatTable = bMotifs.map((name) => ({ name, colA: 1, colB: 1 }))
  const dTable = dX.map((x, i) => ({
    x,
    red: redMean[i],
    redBand: [redLow[i], redHigh[i]],
    blue: blueMean[i],
    blueBand: [blueLow[i], blueHigh[i]]
  }))

  return (
    <div style={{ position: 'absolute', left: 0, top: 0, width: 1530, height: 1800, background: '#fff', overflow: 'hidden', fontFamily: FONT }}>
      <DotBars
        left={100}
        top={100}
        width={263}
        height={250}
        marginTop={20}
        xHeight={22}
        yWidth={124}
        padding={{ left: 11, right: 9 }}
        categories={aCategories}
        values={aValues}
        errorTops={aErrorTops}
        colors={aColors}
        dots={aDots}
        offsets={aDotOffsets}
        domain={[0, 1]}
        ticks={[0, 0.2, 0.4, 0.6, 0.8, 1]}
        digits={1}
        tickSize={9}
        tickMargin={10}
        barSize={37}
        barStroke={3}
        whisker={21}
      />

      <Box left={410} top={0}>
        <BarChart
          layout="vertical"
          width={480}
          height={530}
          data={heatTable}
          barCategoryGap={0}
          margin={{ top: 2, right: 10, bottom: 0, left: 0 }}
        >
          <XAxis
            type="number"
            domain={[0, 2]}
            ticks={[0.47, 1.32]}
            interval={0}
            height={139}
            tickFormatter={(v: number) => (v < 1 ? aCategories[0] : aCategories[1])}
            tick={{ fontSize: 25, fill: INK, fontFamily: FONT }}
            angle={-45}
            textAnchor="end"
            tickSize={0}
            tickMargin={0}
            tickLine={false}
            axisLine={false}
          />
          <YAxis
            type="category"
            dataKey="name"
            width={384}
            interval={0}
            tick={{ fontSize: 25.7, fill: INK, fontFamily: FONT, dy: -4 }}
            tickSize={0}
            tickMargin={14}
            tickLine={false}
            axisLine={false}
          />
          <Bar dataKey="colA" stackId="heat" isAnimationActive={false}>
            {bIndependent.map((v, i) => <Cell key={i} fill={heatColor(v)} />)}
          </Bar>
          <Bar dataKey="colB" stackId="heat" isAnimationActive={false}>
            {bDependent.map((v, i) => <Cell key={i} fill={heatColor(v)} />)}
          </Bar>
        </BarChart>
      </Box>

      <PeakChart plotLeft={216} plotWidth={182} yMax={2.5} yTicks={[0, 0.5, 1, 1.5, 2, 2.5]} dep={fosDep} ind={fosInd} />
      <PeakChart plotLeft={496} plotWidth={182} yMax={2.5} yTicks={[0, 0.5, 1, 1.5, 2, 2.5]} dep={junBDep} ind={junBInd} />
      <PeakChart plotLeft={775} plotWidth={183} yMax={2.5} yTicks={[0, 0.5, 1, 1.5, 2, 2.5]} dep={junDDep} ind={junDInd} />
      <PeakChart plotLeft={1058} plotWidth={183} yMax={1.5} yTicks={[0, 0.5, 1, 1.5]} dep={crebDep} ind={crebInd} />

      <Box left={920} top={20}>
        <ComposedChart width={450} height={383} data={dTable} margin={{ top: 21, right: 24, bottom: 0, left: 0 }}>
          <XAxis
            type="number"
            dataKey="x"
            domain={[-1, 1]}
            ticks={[-1, -0.5, 0, 0.5, 1]}
            interval={0}
            height={60}
            tickFormatter={(v: number) => (v === -1 ? '-1kb' : v === 1 ? '1kb' : String(v))}
            tick={{ fontSize: 25, fill: INK, fontFamily: FONT }}
            tickSize={11}
            tickMargin={11}
            tickLine={{ stroke: INK, strokeWidth: 2 }}
            axisLine={{ stroke: INK, strokeWidth: 2 }}
          />
          <YAxis
            width={112}
            domain={[0, 0.6]}
            ticks={[0, 0.2, 0.4, 0.6]}
            interval={0}
            tickFormatter={(v: number) => v.toFixed(1)}
            tick={{ fontSize: 25, fill: INK, fontFamily: FONT }}
            tickSize={11}
            tickMargin={4}
            tickLine={{ stroke: INK, strokeWidth: 2 }}
            axisLine={{ stroke: INK, strokeWidth: 2 }}
          />
          <ReferenceArea x1={-1} x2={1} y1={0} y2={0.6} fill="none" stroke={INK} strokeWidth={2} />
          <Area dataKey="redBand" type="linear" fill="#f0a4aa" fillOpacity={1} stroke="none" isAnimationActive={false} />
          <Area dataKey="blueBand" type="linear" fill="#a6bce4" fillOpacity={1} stroke="none" isAnimationActive={false} />
          <Line dataKey="red" type="linear" stroke="#e8283c" strokeWidth={2.2} dot={false} isAnimationActive={false} />
          <Line dataKey="blue" type="linear" stroke={NAVY} strokeWidth={2.2} dot={false} isAnimationActive={false} />
        </ComposedChart>
      </Box>

      <TrackPanel left={131} width={588} xDomain={[0, 1536]} baselines={eBaselines} chip={[eHdac3, eAtf2, eAtf3]} chipColor="#f0585a" rnaBins={eRnaBins} rna={eRna} />
      <TrackPanel left={939} width={591} xDomain={[224, 1565]} baselines={fBaselines} chip={[fHdac3, fAtf2, fAtf3]} chipColor="#ee2a30" rnaBins={fRnaBins} rna={fRna} />

      <DotBars
        left={130}
        top={1340}
        width={581}
        height={460}
        marginTop={16}
        xHeight={134}
        yWidth={115}
        padding={{ left: 5, right: 5 }}
        xLabels
        categories={reporterCategories}
        values={gValues}
        errorTops={gErrorTops}
        colors={reporterColors}
        dots={gDots}
        offsets={gDotOffsets}
        domain={[0, 0.2]}
        ticks={[0, 0.05, 0.1, 0.15, 0.2]}
        digits={2}
        tickSize={6}
        tickMargin={3}
        barSize={18}
        barStroke={4}
        whisker={12}
      />
      <DotBars
        left={800}
        top={1340}
        width={581}
        height={460}
        marginTop={15}
        xHeight={135}
        yWidth={116}
        padding={{ left: 5.5, right: 5.5 }}
        xLabels
        categories={reporterCategories}
        values={hValues}
        errorTops={hErrorTops}
        colors={reporterColors}
        dots={hDots}
        offsets={hDotOffsets}
        domain={[0, 0.15]}
        ticks={[0, 0.05, 0.1, 0.15]}
        digits={2}
        tickSize={6}
        tickMargin={3}
        barSize={18}
        barStroke={4}
        whisker={12}
      />

      <Overlay />
    </div>
  )
}
